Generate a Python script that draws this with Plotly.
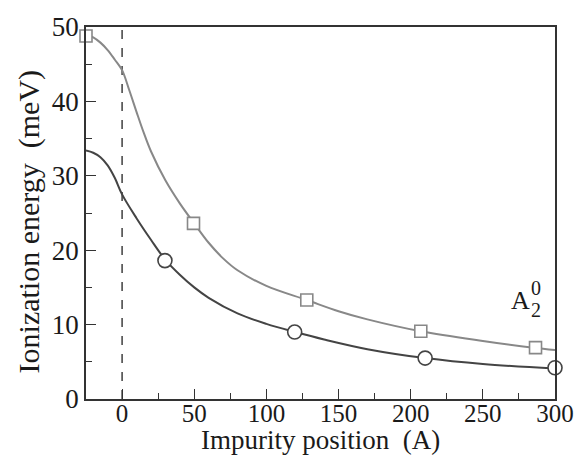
import plotly.graph_objects as go

# Upper curve (gray, squares)
upper_x = [-25, -20, -15, -10, -5, 0, 5, 10, 15, 20, 30, 40, 50, 60, 70, 80, 100, 128, 150, 170, 207, 250, 285, 300]
upper_y = [49.0, 48.6, 47.9, 46.9, 45.6, 44.2, 41.5, 38.6, 35.8, 33.3, 29.4, 26.3, 23.6, 21.0, 18.9, 17.3, 15.2, 13.3, 11.8, 10.7, 9.1, 7.8, 6.9, 6.6]
upper_mx = [-25, 49.5, 128, 207, 286.5]
upper_my = [48.8, 23.6, 13.3, 9.1, 6.9]

# Lower curve (dark, circles)
lower_x = [-25, -20, -15, -10, -5, 0, 10, 20, 30, 40, 50, 60, 80, 100, 120, 140, 170, 210, 250, 300]
lower_y = [33.4, 33.1, 32.5, 31.4, 29.7, 27.5, 24.3, 21.4, 18.7, 16.7, 15.0, 13.6, 11.5, 10.1, 9.0, 8.0, 6.7, 5.5, 4.7, 4.1]
lower_mx = [29.7, 119.6, 210, 300]
lower_my = [18.6, 9.0, 5.5, 4.2]

interface_x = 0
x_range = [-25, 300]
y_range = [0, 50]

x_title = "Impurity position  (A)"
y_title = "Ionization energy  (meV)"

UPPER_C = "#888888"
LOWER_C = "#444444"
AXIS_C = "#333333"
TXT_C = "#1a1a1a"
FONT = "Liberation Serif"

fig = go.Figure()
fig.add_trace(go.Scatter(x=upper_x, y=upper_y, mode="lines",
                         line=dict(color=UPPER_C, width=2, shape="spline", smoothing=1.0),
                         hoverinfo="skip"))
fig.add_trace(go.Scatter(x=lower_x, y=lower_y, mode="lines",
                         line=dict(color=LOWER_C, width=2, shape="spline", smoothing=1.0),
                         hoverinfo="skip"))
fig.add_trace(go.Scatter(x=upper_mx, y=upper_my, mode="markers", cliponaxis=False,
                         marker=dict(symbol="square", size=12, color="white",
                                     line=dict(color=UPPER_C, width=1.6))))
fig.add_trace(go.Scatter(x=lower_mx, y=lower_my, mode="markers", cliponaxis=False,
                         marker=dict(symbol="circle", size=14, color="white",
                                     line=dict(color=LOWER_C, width=1.6))))

fig.add_vline(x=interface_x, line=dict(color="#111111", width=1.2, dash="dash"), layer="below")

fig.add_annotation(x=276, y=13.2, xref="x", yref="y", text="A", showarrow=False,
                   font=dict(family=FONT, size=26, color=TXT_C))
fig.add_annotation(x=286.8, y=12.0, xref="x", yref="y", text="2", showarrow=False,
                   font=dict(family=FONT, size=20, color=TXT_C))
fig.add_annotation(x=286.8, y=14.9, xref="x", yref="y", text="0", showarrow=False,
                   font=dict(family=FONT, size=20, color=TXT_C))

# axis titles
fig.add_annotation(x=0.5, y=-0.109, xref="paper", yref="paper", text=x_title, showarrow=False,
                   xanchor="center", yanchor="middle",
                   font=dict(family=FONT, size=27, color=TXT_C))
fig.add_annotation(x=-0.121, y=0.478, xref="paper", yref="paper", text=y_title, showarrow=False,
                   textangle=-90, xanchor="center", yanchor="middle",
                   font=dict(family=FONT, size=30, color=TXT_C))

fig.update_layout(
    width=586, height=465,
    margin=dict(l=86, r=30, t=16, b=66),
    paper_bgcolor="white", plot_bgcolor="white",
    showlegend=False,
    font=dict(family=FONT, color=TXT_C),
)
fig.update_xaxes(
    range=x_range, tickmode="linear", tick0=0, dtick=50,
    ticks="inside", ticklen=10, tickwidth=1.3, tickcolor=AXIS_C,
    minor=dict(ticks="inside", ticklen=6, tickwidth=1.3, tickcolor=AXIS_C, dtick=25, tick0=0, showgrid=False),
    showline=True, linecolor=AXIS_C, linewidth=1.5, mirror=True,
    showgrid=False, zeroline=False, ticklabelstandoff=-9,
    tickfont=dict(family=FONT, size=25, color=TXT_C),
)
fig.update_yaxes(
    range=y_range, tickmode="linear", tick0=0, dtick=10,
    ticks="inside", ticklen=10, tickwidth=1.3, tickcolor=AXIS_C,
    minor=dict(ticks="inside", ticklen=6, tickwidth=1.3, tickcolor=AXIS_C, dtick=5, tick0=0, showgrid=False),
    showline=True, linecolor=AXIS_C, linewidth=1.5, mirror=True,
    showgrid=False, zeroline=False,
    tickfont=dict(family=FONT, size=27, color=TXT_C),
)

fig.write_html("out.html")
